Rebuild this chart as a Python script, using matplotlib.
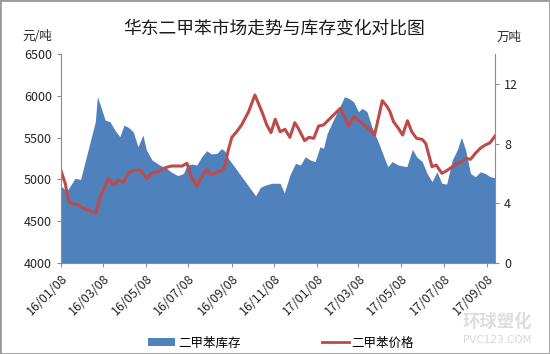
import matplotlib
matplotlib.use("Agg")
import matplotlib.pyplot as plt
import matplotlib.dates as mdates
from matplotlib.patches import Patch, Rectangle
from matplotlib.lines import Line2D
import pandas as pd

plt.rcParams['font.family'] = ['Noto Sans CJK SC', 'DejaVu Sans']

title = "华东二甲苯市场走势与库存变化对比图"
left_unit = "元/吨"
right_unit = "万吨"
inv_label = "二甲苯库存"
price_label = "二甲苯价格"

start_date = "2016-01-08"

# inventory (万吨), day offsets from start_date
inv_days = [0, 6, 10, 20, 28, 49, 52, 56, 63, 70, 77, 84, 90, 96, 103, 110, 117, 122,
            130, 136, 141, 151, 157, 167, 175, 180, 187, 194, 201, 208, 215, 223, 229,
            234, 239, 278, 285, 292, 301, 313, 319, 327, 335, 342, 349, 356, 363, 370,
            375, 380, 389, 396, 405, 411, 418, 425, 430, 437, 444, 454, 463, 467, 473,
            482, 494, 502, 508, 516, 523, 530, 537, 544, 551, 559, 566, 572, 578, 585,
            592, 599, 606, 613, 620]
inv_vals = [5.16, 4.89, 4.93, 5.67, 5.60, 9.46, 11.14, 10.6, 9.58, 9.46, 8.9, 8.46, 9.24,
            9.09, 8.8, 7.79, 8.57, 7.57, 6.9, 6.72, 6.56, 6.34, 6.11, 5.85, 6.0, 6.56,
            6.63, 6.56, 7.12, 7.52, 7.30, 7.35, 7.66, 7.5, 7.01, 4.5, 5.07, 5.22, 5.34,
            5.34, 4.7, 5.89, 6.68, 6.56, 7.12, 6.9, 6.79, 7.79, 7.68, 8.65, 9.58, 10.25,
            11.14, 11.03, 10.8, 10.13, 10.36, 10.15, 9.13, 8.02, 6.9, 6.45, 6.79, 6.56,
            6.45, 7.61, 7.12, 6.79, 6.0, 5.45, 6.11, 5.34, 5.29, 6.9, 7.57, 8.42, 7.57,
            6.0, 5.78, 6.11, 6.0, 5.78, 5.71]

# price (元/吨), day offsets from start_date
price_days = [0, 6, 11, 18, 25, 32, 39, 44, 50, 56, 68, 75, 82, 89, 96, 103, 113, 123,
              130, 139, 149, 158, 173, 180, 187, 194, 201, 208, 215, 223, 230, 234, 239,
              244, 251, 258, 268, 277, 287, 294, 300, 306, 313, 320, 327, 334, 339, 348,
              354, 361, 368, 375, 382, 399, 404, 411, 418, 431, 439, 448, 459, 466, 470,
              475, 482, 488, 495, 501, 508, 516, 521, 530, 536, 544, 551, 559, 566, 573,
              578, 585, 592, 599, 606, 613, 620]
price_vals = [5104, 4953, 4734, 4706, 4694, 4654, 4634, 4614, 4594, 4793, 5013, 4933, 4993,
              4961, 5073, 5104, 5112, 5013, 5081, 5092, 5140, 5160, 5160, 5192, 5013, 4921,
              5033, 5120, 5053, 5093, 5104, 5152, 5352, 5503, 5571, 5651, 5810, 6009, 5810,
              5651, 5559, 5719, 5570, 5599, 5503, 5679, 5611, 5463, 5503, 5491, 5639, 5651,
              5710, 5850, 5770, 5639, 5750, 5671, 5611, 5531, 5942, 5870, 5810, 5690, 5611,
              5531, 5702, 5571, 5491, 5479, 5431, 5152, 5172, 5073, 5104, 5152, 5192, 5212,
              5252, 5240, 5312, 5372, 5411, 5439, 5519]

tick_dates = ["2016-01-08", "2016-03-08", "2016-05-08", "2016-07-08", "2016-09-08",
              "2016-11-08", "2017-01-08", "2017-03-08", "2017-05-08", "2017-07-08",
              "2017-09-08"]
left_ticks = [4000, 4500, 5000, 5500, 6000, 6500]
right_ticks = [0, 4, 8, 12]

base = pd.Timestamp(start_date)
inv_x = [base + pd.Timedelta(days=d) for d in inv_days]
price_x = [base + pd.Timedelta(days=d) for d in price_days]
ticks_x = [pd.Timestamp(t) for t in tick_dates]

BLUE = '#4F81BD'
RED = '#BE4B48'
GRAY = '#8C8C8C'
TXT = '#262626'

fig = plt.figure(figsize=(5.5, 3.54), dpi=100)
ax = fig.add_axes([61/550, 1-263/354, (495-61)/550, (263-54)/354])
ax2 = ax.twinx()

ax2.fill_between(inv_x, inv_vals, 0, color=BLUE, linewidth=0)
ax.plot(price_x, price_vals, color=RED, linewidth=2.2, solid_joinstyle='round')

ax.set_zorder(2)
ax2.set_zorder(1)
ax.patch.set_visible(False)

ax.set_xlim(inv_x[0], inv_x[-1])
ax.set_ylim(4000, 6500)
ax2.set_ylim(0, 14)
ax.set_yticks(left_ticks)
ax2.set_yticks(right_ticks)
ax.set_xticks(ticks_x)
ax.xaxis.set_major_formatter(mdates.DateFormatter('%y/%m/%d'))

for a in (ax, ax2):
    for s in a.spines.values():
        s.set_color(GRAY)
        s.set_linewidth(0.8)
    a.spines['top'].set_visible(False)
    a.tick_params(colors=GRAY, labelcolor=TXT, labelsize=9, length=3, width=0.8)
ax.spines['right'].set_visible(False)
ax2.spines['left'].set_visible(False)
ax2.spines['bottom'].set_visible(False)

for lab in ax.get_xticklabels():
    lab.set_rotation(45)
    lab.set_ha('right')
    lab.set_rotation_mode('anchor')

fig.text(274/550, 1-29/354, title, ha='center', va='center', fontsize=12.8, color='#1a1a1a')
fig.text(37/550, 1-37/354, left_unit, ha='center', va='center', fontsize=9, color=TXT)
fig.text(509/550, 1-37/354, right_unit, ha='center', va='center', fontsize=9, color=TXT)

handles = [Patch(facecolor=BLUE, edgecolor='none'), Line2D([], [], color=RED, linewidth=2)]
fig.legend(handles, [inv_label, price_label], loc='center', bbox_to_anchor=(281/550, 1-343/354),
           ncol=2, frameon=False, fontsize=9, handlelength=2.2, handleheight=0.6,
           handletextpad=0.2, columnspacing=6.5)

# watermark
fig.text(497/550, 1-322/354, "环球塑化", ha='center', va='center', fontsize=12.5,
         color='#dedede', fontweight='bold')
fig.text(497/550, 1-340/354, "PVC123.COM", ha='center', va='center', fontsize=7.5,
         color='#d8d8d8', family=['DejaVu Sans'])

fig.patches.append(Rectangle((0, 0), 1, 1, transform=fig.transFigure, fill=False,
                             edgecolor='#9a9a9a', linewidth=2))

fig.savefig('out.png', dpi=100)
